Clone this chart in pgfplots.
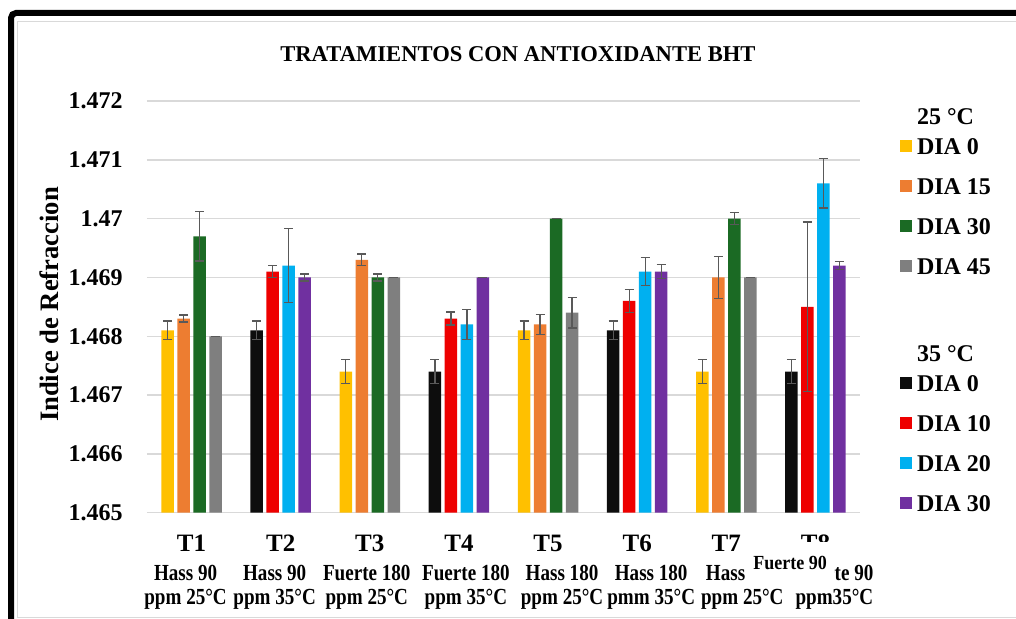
\documentclass[border=0pt]{standalone}
\usepackage{fontspec}
\setmainfont{Liberation Serif}
\newfontfamily\condfont[FakeStretch=0.83]{Liberation Serif}
\newfontfamily\condfontb[FakeStretch=0.9]{Liberation Serif}
\usepackage{pgfplots}
\usepackage{pgfplotstable}
\pgfplotsset{compat=1.18}

\definecolor{cA0}{HTML}{FFC000}
\definecolor{cA1}{HTML}{ED7D31}
\definecolor{cA2}{HTML}{1B6A24}
\definecolor{cA3}{HTML}{7F7F7F}
\definecolor{cB0}{HTML}{0D0D0D}
\definecolor{cB1}{HTML}{EE0000}
\definecolor{cB2}{HTML}{00B0F0}
\definecolor{cB3}{HTML}{7030A0}
\definecolor{errgrey}{HTML}{595959}
\definecolor{gridgrey}{HTML}{D9D9D9}

% 25 C groups (T1,T3,T5,T7): DIA 0, 15, 30, 45
\pgfplotstableread{
x y0 e0 y1 e1 y2 e2 y3 e3
0 1.4681 0.00016 1.4683 0.00006 1.4697 0.00042 1.4680 0
2 1.4674 0.00020 1.4693 0.00010 1.4690 0.00006 1.4690 0
4 1.4681 0.00016 1.4682 0.00017 1.4700 0       1.4684 0.00026
6 1.4674 0.00020 1.4690 0.00036 1.4700 0.00010 1.4690 0
}\tA
% 35 C groups (T2,T4,T6,T8): DIA 0, 10, 20, 30
\pgfplotstableread{
x y0 e0 y1 e1 y2 e2 y3 e3
1 1.4681 0.00016 1.4691 0.00010 1.4692 0.00063 1.4690 0.00006
3 1.4674 0.00020 1.4683 0.00011 1.4682 0.00026 1.4690 0
5 1.4681 0.00016 1.4686 0.00020 1.4691 0.00024 1.4691 0.00012
7 1.4674 0.00020 1.4685 0.00144 1.4706 0.00042 1.4692 0.00007
}\tB

\newcommand{\tlab}[4]{\makebox[0pt]{\fontsize{12.5}{12.5}\selectfont #1}\\[2.5pt]%
\makebox[0pt]{\hspace*{#4pt}\condfont\bfseries #2}\\%
\makebox[0pt]{\hspace*{#4pt}\condfont\bfseries #3}}

\pgfplotsset{
  barstyle/.style={ybar, bar width=6.25pt, draw=none, bar shift=#1,
    error bars/y dir=both, error bars/y explicit,
    error bars/error mark=-,
    error bars/error bar style={draw=errgrey, line width=0.65pt, xshift=#1},
    error bars/error mark options={draw=errgrey, line width=0.65pt, mark size=2.25pt, rotate=90}},
}

\begin{document}
\begin{tikzpicture}
\useasboundingbox (0,0) rectangle (508pt,309.5pt);
\draw[color=gridgrey, line width=0.75pt] (530pt,0.75pt) -- (8.75pt,0.75pt) -- (8.75pt,298.75pt) -- (530pt,298.75pt);
\draw[line width=3pt, rounded corners=2.5pt] (5.5pt,-10pt) -- (5.5pt,303pt) -- (530pt,303pt);
\begin{axis}[
  at={(73.5pt,53.15pt)}, anchor=south west,
  scale only axis, width=356.5pt, height=205.85pt,
  xmin=-0.5, xmax=7.5, ymin=1.465, ymax=1.472,
  axis line style={draw=none},
  major tick length=0pt,
  ymajorgrids, grid style={color=gridgrey, line width=0.75pt},
  ytick={1.465,1.466,1.467,1.468,1.469,1.470,1.471,1.472},
  yticklabels={1.465,1.466,1.467,1.468,1.469,1.47,1.471,1.472},
  yticklabel style={font=\bfseries\fontsize{12}{14}\selectfont, inner sep=0pt, anchor=east, xshift=-12pt},
  xtick={0,1,2,3,4,5,6,7},
  xticklabels={
    {\tlab{T1}{Hass 90}{ppm 25°C}{-6}},
    {\tlab{T2}{Hass 90}{ppm 35°C}{-6}},
    {\tlab{T3}{Fuerte 180}{ppm 25°C}{-3}},
    {\tlab{T4}{Fuerte 180}{ppm 35°C}{7}},
    {\tlab{T5}{Hass 180}{ppm 25°C}{14}},
    {\tlab{T6}{Hass 180}{pmm 35°C}{14}},
    {\tlab{T7}{Hass 180}{ppm 25°C}{16}},
    {\tlab{T8}{Fuerte 90}{ppm35°C}{19}}},
  xticklabel style={align=center, anchor=north, inner sep=0pt, yshift=-11pt,
    font=\bfseries\fontsize{11.5}{12}\selectfont},
  ylabel={Indice de Refraccion},
  every axis y label/.style={at={(axis description cs:-0.1374,0.5057)}, rotate=90, anchor=center,
    font=\bfseries\fontsize{13.3}{15}\selectfont},
  title={TRATAMIENTOS CON ANTIOXIDANTE BHT},
  title style={at={(axis description cs:0.5203,1.0668)}, anchor=base, inner sep=0pt,
    font=\bfseries\fontsize{11.3}{13}\selectfont},
  legend image code/.code={\fill[#1] (0pt,-3.8pt) rectangle (6pt,2.2pt);},
  legend cell align=left,
  legend style={at={(axis description cs:1.0561,0.9874)}, anchor=north west,
    draw=none, fill=none, inner sep=0pt, outer sep=0pt,
    row sep=0pt, column sep=2.5pt,
    font=\bfseries\fontsize{12}{14}\selectfont,
    nodes={inner sep=0pt, text height=15pt, text depth=5pt, anchor=west}},
  clip=false,
]
\addplot[barstyle=-12pt, fill=cA0, forget plot] table[x=x, y=y0, y error=e0] {\tA};
\addplot[barstyle=-4pt, fill=cA1, forget plot] table[x=x, y=y1, y error=e1] {\tA};
\addplot[barstyle=4pt, fill=cA2, forget plot] table[x=x, y=y2, y error=e2] {\tA};
\addplot[barstyle=12pt, fill=cA3, forget plot] table[x=x, y=y3, y error=e3] {\tA};
\addplot[barstyle=-12pt, fill=cB0, forget plot] table[x=x, y=y0, y error=e0] {\tB};
\addplot[barstyle=-4pt, fill=cB1, forget plot] table[x=x, y=y1, y error=e1] {\tB};
\addplot[barstyle=4pt, fill=cB2, forget plot] table[x=x, y=y2, y error=e2] {\tB};
\addplot[barstyle=12pt, fill=cB3, forget plot] table[x=x, y=y3, y error=e3] {\tB};

\addlegendimage{empty legend}
\addlegendentry[text height=9pt, text depth=0pt]{25 °C}
\addlegendimage{fill=cA0, draw=none}
\addlegendentry{DIA 0}
\addlegendimage{fill=cA1, draw=none}
\addlegendentry{DIA 15}
\addlegendimage{fill=cA2, draw=none}
\addlegendentry{DIA 30}
\addlegendimage{fill=cA3, draw=none}
\addlegendentry{DIA 45}
\addlegendimage{empty legend}
\addlegendentry[text height=29.5pt, text depth=0pt]{}
\addlegendimage{empty legend}
\addlegendentry[text height=9pt, text depth=0pt]{35 °C}
\addlegendimage{fill=cB0, draw=none}
\addlegendentry{DIA 0}
\addlegendimage{fill=cB1, draw=none}
\addlegendentry{DIA 10}
\addlegendimage{fill=cB2, draw=none}
\addlegendentry{DIA 20}
\addlegendimage{fill=cB3, draw=none}
\addlegendentry{DIA 30}
\end{axis}
% overlapping text box over the T8 label, as in the original
\node[fill=white, inner sep=0pt, minimum width=42.5pt, minimum height=23pt, anchor=south west] at (374.5pt,15.5pt) {};
\node[anchor=base, inner sep=0pt, font=\condfontb\bfseries\fontsize{10}{12}\selectfont] at (395pt,24.5pt) {Fuerte 90};
\end{tikzpicture}
\end{document}
